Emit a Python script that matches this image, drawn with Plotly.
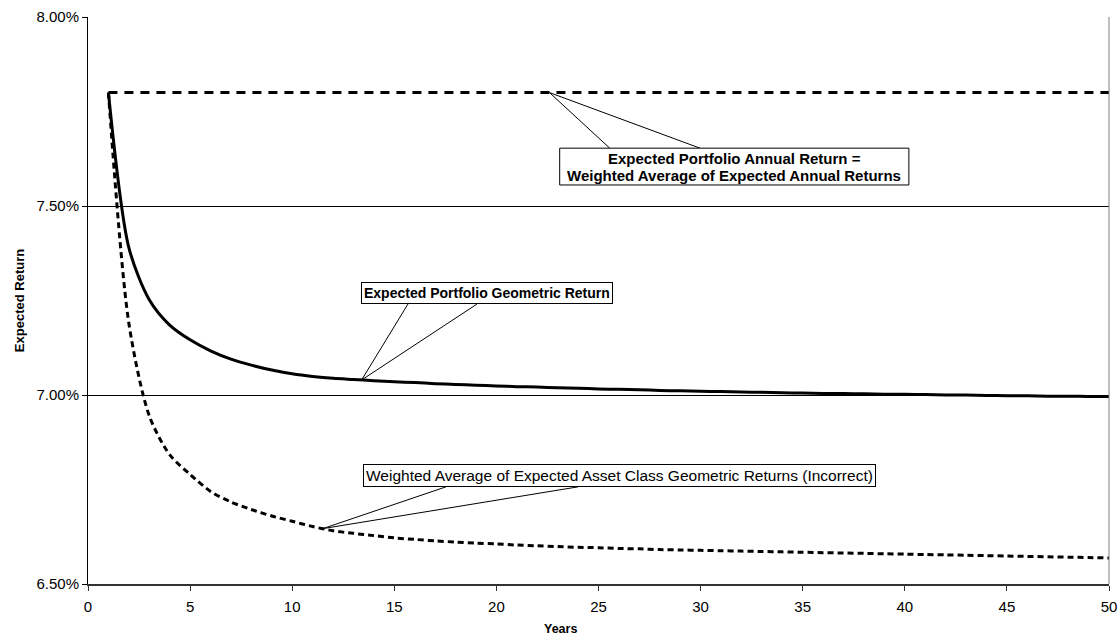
import numpy as np
import plotly.graph_objects as go

years = list(range(1, 51))

annual = [7.80] * 50  # constant series (7.80% every year)

geometric = [7.800, 7.390, 7.252, 7.185, 7.146, 7.117, 7.095, 7.079, 7.066, 7.056,
             7.049, 7.044, 7.041, 7.038, 7.035, 7.033, 7.030, 7.028, 7.026, 7.024,
             7.022, 7.021, 7.019, 7.018, 7.016, 7.015, 7.014, 7.012, 7.011, 7.010,
             7.009, 7.008, 7.007, 7.006, 7.005, 7.004, 7.004, 7.003, 7.002, 7.002,
             7.001, 7.000, 7.000, 6.999, 6.998, 6.998, 6.997, 6.997, 6.996, 6.996]

incorrect = [7.800, 7.190, 6.945, 6.842, 6.790, 6.745, 6.717, 6.697, 6.680, 6.666,
             6.652, 6.641, 6.634, 6.628, 6.622, 6.618, 6.614, 6.611, 6.608, 6.606,
             6.603, 6.601, 6.599, 6.597, 6.596, 6.594, 6.593, 6.591, 6.590, 6.589,
             6.588, 6.587, 6.586, 6.585, 6.584, 6.583, 6.582, 6.581, 6.580, 6.579,
             6.578, 6.577, 6.576, 6.575, 6.574, 6.573, 6.572, 6.571, 6.570, 6.569]

label_annual_1 = "<b>Expected Portfolio Annual Return =</b>"
label_annual_2 = "<b>Weighted Average of Expected Annual Returns</b>"
label_geo = "<b>Expected Portfolio Geometric Return</b>"
label_inc = "Weighted Average of Expected Asset Class Geometric Returns (Incorrect)"
x_title = "<b>Years</b>"
y_title = "<b>Expected Return</b>"

FONT = "Liberation Sans, Arial, sans-serif"

fig = go.Figure()
fig.add_trace(go.Scatter(x=years, y=annual, mode="lines",
                         line=dict(color="black", width=3, dash="9px,7px"),
                         hoverinfo="skip", showlegend=False))
fig.add_trace(go.Scatter(x=years, y=incorrect, mode="lines",
                         line=dict(color="black", width=3, dash="6px,4px", shape="spline", smoothing=0.8),
                         hoverinfo="skip", showlegend=False))
fig.add_trace(go.Scatter(x=years, y=geometric, mode="lines",
                         line=dict(color="black", width=3, shape="spline", smoothing=0.8),
                         hoverinfo="skip", showlegend=False))

# callout anchor points taken from the series
a_x = 22.6
a_y = float(np.interp(a_x, years, annual))
g_x = 13.4
g_y = float(np.interp(g_x, years, geometric))
i_x = 11.5
i_y = float(np.interp(i_x, years, incorrect))

# callout box geometry (axis units)
annual_box = dict(x0=23.1, x1=40.2, y0=7.5556, y1=7.653)
geo_box_bottom = 7.2407
inc_box_bottom = 6.757

shapes = []
for (ax, ay, ends, ey) in [
    (a_x, a_y, (25.55, 29.97), annual_box["y1"]),
    (g_x, g_y, (15.67, 19.05), geo_box_bottom),
    (i_x, i_y, (17.53, 24.0), inc_box_bottom),
]:
    for ex in ends:
        shapes.append(dict(type="line", xref="x", yref="y", x0=ax, y0=ay, x1=ex, y1=ey,
                           line=dict(color="black", width=1)))
shapes.append(dict(type="rect", xref="x", yref="y", fillcolor="white",
                   line=dict(color="black", width=1), **annual_box))
# right border of plot area
shapes.append(dict(type="line", xref="paper", yref="paper", x0=1, x1=1, y0=0, y1=1,
                   line=dict(color="#808080", width=1)))

ann_mid_x = (annual_box["x0"] + annual_box["x1"]) / 2
ann_h = annual_box["y1"] - annual_box["y0"]
ann_common = dict(showarrow=False, bgcolor="white", bordercolor="black", borderwidth=1,
                  xanchor="center")
annotations = [
    dict(x=ann_mid_x, y=annual_box["y1"] - ann_h * 0.27, text=label_annual_1, showarrow=False,
         xanchor="center", yanchor="middle", font=dict(family=FONT, size=15, color="black")),
    dict(x=ann_mid_x, y=annual_box["y1"] - ann_h * 0.74, text=label_annual_2, showarrow=False,
         xanchor="center", yanchor="middle", font=dict(family=FONT, size=15, color="black")),
    dict(x=19.56, y=geo_box_bottom, yanchor="bottom", text=label_geo, borderpad=2,
         font=dict(family=FONT, size=14, color="black"), **ann_common),
    dict(x=26.03, y=inc_box_bottom, yanchor="bottom", text=label_inc, borderpad=2,
         font=dict(family=FONT, size=15.5, color="black"), **ann_common),
    # x-axis title is centred on the whole chart, as in the original
    dict(x=0.5, xref="paper", xanchor="center", xshift=-38, y=0, yref="paper", yanchor="top",
         yshift=-36, text=x_title, showarrow=False, font=dict(family=FONT, size=12.5, color="black")),
]

fig.update_layout(
    width=1120, height=636,
    margin=dict(l=88, r=11, t=17, b=52),
    paper_bgcolor="white", plot_bgcolor="white",
    font=dict(family=FONT, size=15, color="black"),
    shapes=shapes, annotations=annotations,
    showlegend=False,
)
fig.update_xaxes(range=[0, 50], dtick=5, tick0=0, showgrid=False, zeroline=False,
                 showline=True, linecolor="#333333", linewidth=2,
                 ticks="outside", ticklen=5, tickcolor="#333333",
                 tickfont=dict(size=15), ticklabelstandoff=3, automargin=False)
fig.update_yaxes(range=[6.5, 8.0], dtick=0.5, tick0=6.5, tickformat=".2f", ticksuffix="%",
                 showgrid=True, gridcolor="black", gridwidth=1, zeroline=False,
                 showline=True, linecolor="black", linewidth=1,
                 ticks="outside", ticklen=5, tickcolor="black",
                 tickfont=dict(size=15), automargin=False,
                 title=dict(text=y_title, font=dict(size=13), standoff=8))

# remove the default 8px page margin so the figure sits exactly in the window
fig.write_html("out.html", config={"displayModeBar": False, "staticPlot": True},
               post_script="document.body.style.margin='0';document.body.style.overflow='hidden';")
